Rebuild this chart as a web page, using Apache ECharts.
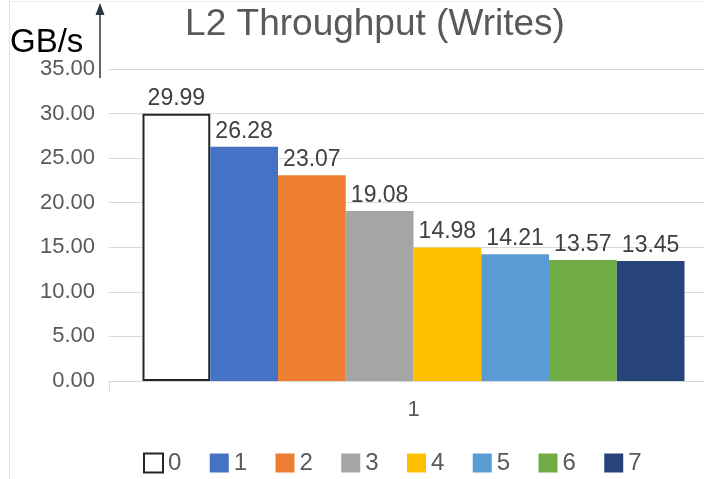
<!DOCTYPE html>
<html>
<head>
<meta charset="utf-8">
<script src="https://cdn.jsdelivr.net/npm/echarts@6/dist/echarts.min.js"></script>
<style>
  html, body { margin: 0; padding: 0; background: #fff; }
  #chart { width: 704px; height: 479px; }
</style>
</head>
<body>
<div id="chart"></div>
<script>
// Write throughput per configuration, one bar per series
var categories = ['1'];
var seriesNames = ['0', '1', '2', '3', '4', '5', '6', '7'];
var throughput = [29.99, 26.28, 23.07, 19.08, 14.98, 14.21, 13.57, 13.45];
var barColors = ['#ffffff', '#4472C4', '#ED7D31', '#A5A5A5', '#FFC000', '#5B9BD5', '#70AD47', '#264478'];
var yTicks = { min: 0, max: 35, step: 5 };

var FONT = '"Liberation Sans", Arial, sans-serif';

var series = seriesNames.map(function (name, i) {
  var first = i === 0;
  return {
    name: name,
    type: 'bar',
    data: [throughput[i]],
    barGap: '0%',
    barCategoryGap: '11%',
    itemStyle: {
      color: barColors[i],
      borderColor: first ? '#262626' : barColors[i],
      borderWidth: first ? 2 : 0
    },
    label: {
      show: true,
      position: 'top',
      distance: 4,
      fontFamily: FONT,
      fontSize: 23,
      color: '#404040',
      formatter: function (p) { return p.value.toFixed(2); }
    }
  };
});

var chart = echarts.init(document.getElementById('chart'), null, { renderer: 'canvas' });
chart.setOption({
  animation: false,
  backgroundColor: '#ffffff',
  textStyle: { fontFamily: FONT },
  title: {
    text: 'L2 Throughput (Writes)',
    left: 370,
    textAlign: 'center',
    top: 1,
    textStyle: { fontFamily: FONT, fontSize: 37, fontWeight: 'normal', color: '#595959' }
  },
  legend: {
    data: seriesNames.map(function (n, i) {
      return i === 0
        ? { name: n, itemStyle: { color: '#ffffff', borderColor: '#262626', borderWidth: 2 } }
        : { name: n };
    }),
    left: 138,
    top: 446,
    itemWidth: 19,
    itemHeight: 19,
    itemGap: 28.4,
    icon: 'rect',
    textStyle: { fontFamily: FONT, fontSize: 24, color: '#595959' }
  },
  grid: { left: 109, width: 609, top: 69, bottom: 98, containLabel: false, outerBoundsMode: 'none' },
  xAxis: {
    type: 'category',
    data: categories,
    axisLine: { lineStyle: { color: '#D9D9D9', width: 1 } },
    axisTick: { show: true, length: 10, lineStyle: { color: '#D9D9D9' } },
    axisLabel: { fontFamily: FONT, fontSize: 22, color: '#595959', margin: 18 }
  },
  yAxis: {
    type: 'value',
    min: yTicks.min,
    max: yTicks.max,
    interval: yTicks.step,
    axisLine: { show: false },
    axisTick: { show: false },
    splitLine: { lineStyle: { color: '#D9D9D9', width: 1 } },
    axisLabel: {
      fontFamily: FONT, fontSize: 22, color: '#595959', margin: 14,
      formatter: function (v) { return v.toFixed(2); }
    }
  },
  graphic: [
    { type: 'line', shape: { x1: 9.5, y1: 0, x2: 9.5, y2: 479 }, style: { stroke: '#E3E3E3', lineWidth: 1 } },
    { type: 'line', shape: { x1: 9, y1: 1.5, x2: 704, y2: 1.5 }, style: { stroke: '#EDEDED', lineWidth: 1 } },
    { type: 'line', shape: { x1: 100, y1: 14, x2: 100, y2: 78 }, style: { stroke: '#2B3445', lineWidth: 1.5 } },
    { type: 'polygon', shape: { points: [[100, 3], [95.5, 15], [104.5, 15]] }, style: { fill: '#2B3445' } },
    { type: 'text', left: 10, top: 26, style: { text: 'GB/s', font: '33px ' + FONT, fill: '#000000' } }
  ],
  series: series
});
</script>
</body>
</html>
